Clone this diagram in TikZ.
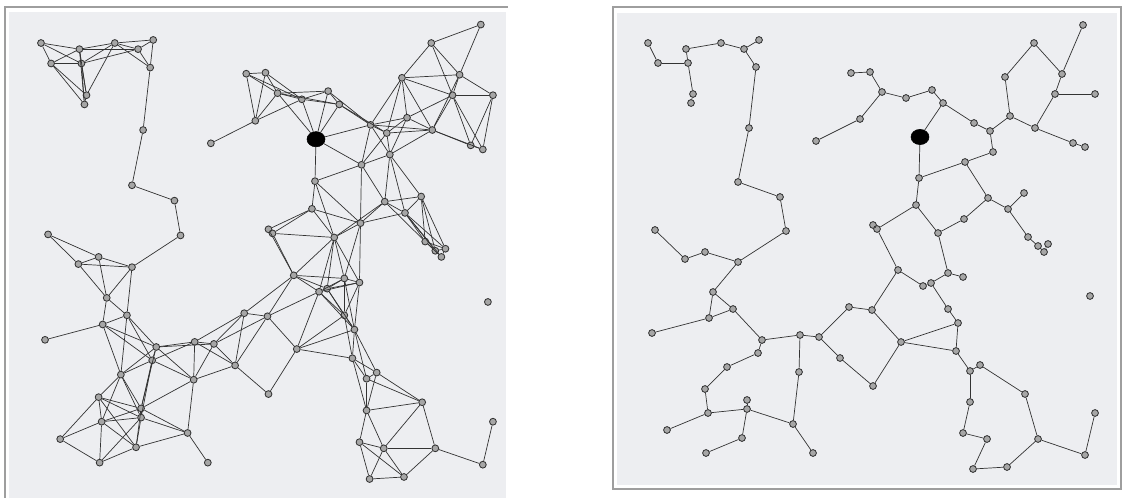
\documentclass[tikz,border=0pt]{standalone}
\usetikzlibrary{shapes.geometric}

\definecolor{panelbg}{RGB}{237,238,241}
\definecolor{framegray}{RGB}{158,158,158}

\newcommand\linkrange{62}
\def\sensors{648/43, 658/63, 686/49, 688/63, 693/94, 691/103, 721/43, 744/49, 759/40, 756/67,
749/128, 738/182, 780/197, 786/231, 655/230, 685/259, 705/252, 738/262, 713/292, 733/309,
709/318, 652/333, 762/340, 758/353, 727/367, 705/389, 708/413, 747/400, 747/409, 742/438,
706/453, 667/430, 793/424, 813/453, 799/372, 800/335, 819/337, 849/307, 840/358, 816/141,
860/119, 851/73, 870/72, 882/92, 906/98, 932/90, 943/103, 974/123, 990/131, 1010/116,
1005/77, 1034/43, 1083/25, 1062/74, 1055/94, 1095/94, 1035/128, 1073/143, 1085/147, 993/152,
965/162, 920/137, 919/178, 916/205, 873/225, 877/229, 938/233, 964/219, 988/198, 1008/209,
1024/193, 1028/237, 1038/246, 1044/252, 1048/244, 948/273, 963/277, 898/270, 923/286, 931/283,
948/309, 958/323, 872/310, 901/342, 956/351, 873/386, 970/371, 980/365, 1025/394, 1090/296,
970/402, 963/433, 987/439, 1038/439, 1095/413, 1085/455, 1007/467, 973/469}

\begin{document}
\begin{tikzpicture}[
        x=0.025cm, y=-0.025cm,
        dot/.style={
            circle,
            draw=black!80,
            fill=black!35,
            line width=0.6pt,
            inner sep=0pt,
            minimum size=0.17cm
        },
        hub/.style={
            ellipse,
            draw=black,
            fill=black,
            inner sep=0pt,
            minimum width=0.45cm,
            minimum height=0.38cm
        },
        link/.style={draw=black!80, line width=0.5pt}
    ]
    \useasboundingbox (0,0) rectangle (1123,498);
    \fill[white] (0,0) rectangle (1123,498);

    \fill[panelbg] (9,12) rectangle (506,498);
    \draw[framegray, line width=0.07cm] (5,498) -- (5,7) -- (508,7);

    \fill[panelbg] (617,13) rectangle (1117,485);
    \draw[framegray, line width=0.07cm] (613,489) -- (613,7) -- (1121,7) -- (1121,489) -- cycle;

    \foreach [count=\i] \x/\y in \sensors {
        \expandafter\xdef\csname sx\i\endcsname{\x}
        \expandafter\xdef\csname sy\i\endcsname{\y}
        \ifnum\i=62 \node[hub] (R\i) at (\x,\y) {}; \else \node[dot] (R\i) at (\x,\y) {}; \fi
    }

    \begin{scope}[shift={(-614.2,-1)}, xscale=1.0111, yscale=1.0235]
        \foreach [count=\i] \x/\y in \sensors {
            \ifnum\i=62 \node[hub] (L\i) at (\x,\y) {}; \else \node[dot] (L\i) at (\x,\y) {}; \fi
        }
    \end{scope}

    \foreach \i in {1,...,97} {
        \foreach \j in {\i,...,98} {
            \ifnum\j>\i
                \pgfmathsetmacro\gap{veclen(\csname sx\i\endcsname-\csname sx\j\endcsname,\csname sy\i\endcsname-\csname sy\j\endcsname)}
                \ifdim\gap pt<\linkrange pt
                    \draw[link] (L\i) -- (L\j);
                \fi
            \fi
        }
    }

    \foreach \a/\b in {1/2, 2/4, 3/4, 3/7, 7/8, 8/9, 8/10, 10/11, 11/12, 12/13, 13/14, 4/5, 5/6,
        15/16, 16/17, 17/18, 14/18, 18/19, 19/21, 19/20, 20/21, 22/21, 20/23, 23/24, 24/25,
        25/26, 26/27, 27/32, 27/29, 28/29, 29/30, 30/31, 29/33, 33/34, 33/35, 35/36, 23/36,
        36/37, 37/38, 37/39, 38/83, 39/86, 86/84, 84/83, 83/78, 84/82, 84/85, 82/85, 81/82,
        85/87, 87/88, 88/89, 89/94, 94/96, 96/95, 94/97, 97/98, 98/93, 93/92, 92/91, 91/87,
        78/79, 79/80, 80/76, 80/81, 76/67, 76/77, 66/78, 65/66, 64/66, 64/67, 67/68, 68/69,
        69/61, 61/60, 61/63, 63/62, 63/64, 69/70, 70/71, 70/72, 72/73, 73/74, 74/75,
        62/47, 47/46, 46/45, 45/44, 44/43, 43/42, 44/41, 41/40, 47/48, 48/49, 49/50, 49/60,
        50/51, 51/52, 52/54, 54/53, 54/55, 55/56, 55/57, 57/50, 57/58, 58/59}
        \draw[link] (R\a) -- (R\b);
\end{tikzpicture}
\end{document}
